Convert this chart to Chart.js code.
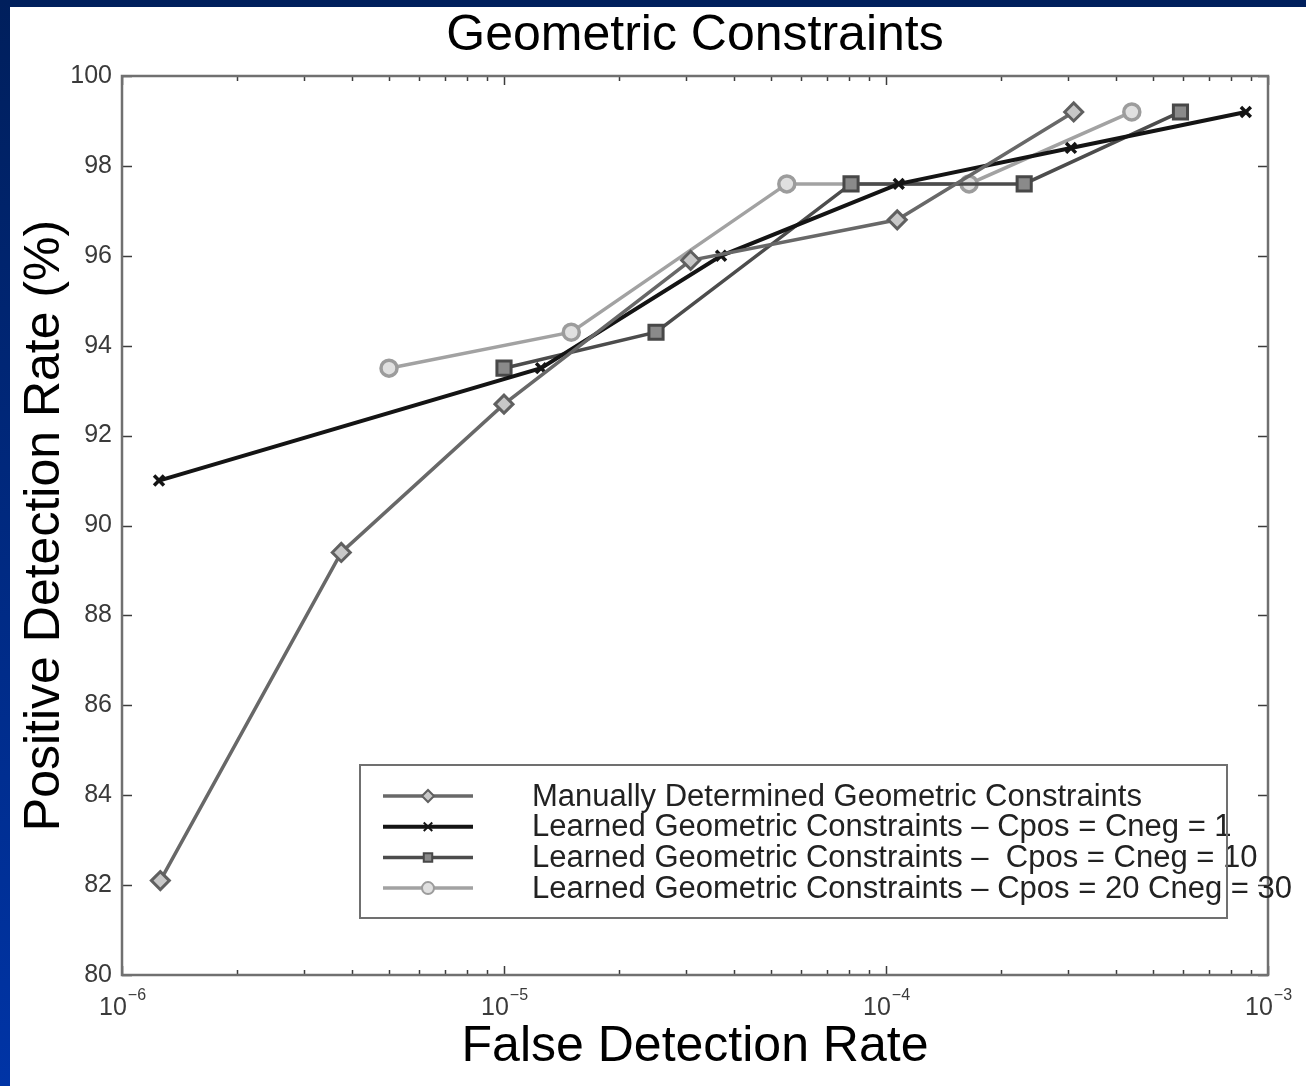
<!DOCTYPE html>
<html>
<head>
<meta charset="utf-8">
<script src="https://cdn.jsdelivr.net/npm/chart.js@4/dist/chart.umd.min.js"></script>
<style>
  html, body { margin: 0; padding: 0; }
  body {
    width: 1306px; height: 1086px; overflow: hidden;
    background: linear-gradient(to bottom, #001f5c, #0034a6);
    position: relative;
  }
  #wrap {
    position: absolute; left: 10px; top: 7px;
    width: 1296px; height: 1079px; background: #fff;
  }
</style>
</head>
<body>
<div id="wrap"><canvas id="chart" width="1296" height="1079"></canvas></div>
<script>
// false detection rate (x) / positive detection rate (y)
const manualFdr = [1.26e-6, 3.75e-6, 1.0e-5, 3.08e-5, 1.07e-4, 3.1e-4];
const manualPdr = [82.1, 89.4, 92.7, 95.9, 96.8, 99.2];

const learned1Fdr = [1.25e-6, 1.25e-5, 3.7e-5, 1.08e-4, 3.05e-4, 8.75e-4];
const learned1Pdr = [91.0, 93.5, 96.0, 97.6, 98.4, 99.2];

const learned10Fdr = [1.0e-5, 2.5e-5, 8.1e-5, 2.3e-4, 5.9e-4];
const learned10Pdr = [93.5, 94.3, 97.6, 97.6, 99.2];

const learned20Fdr = [5.0e-6, 1.5e-5, 5.5e-5, 1.65e-4, 4.4e-4];
const learned20Pdr = [93.5, 94.3, 97.6, 97.6, 99.2];

const seriesLabels = [
    'Manually Determined Geometric Constraints',
    'Learned Geometric Constraints \u2013 Cpos = Cneg = 1',
    'Learned Geometric Constraints \u2013  Cpos = Cneg = 10',
    'Learned Geometric Constraints \u2013 Cpos = 20 Cneg = 30'
];

const xTickValues = [
    1e-6, 2e-6, 3e-6, 4e-6, 5e-6, 6e-6, 7e-6, 8e-6, 9e-6,
    1e-5, 2e-5, 3e-5, 4e-5, 5e-5, 6e-5, 7e-5, 8e-5, 9e-5,
    1e-4, 2e-4, 3e-4, 4e-4, 5e-4, 6e-4, 7e-4, 8e-4, 9e-4,
    1e-3
];

const FONT = "'Liberation Sans', Arial, Helvetica, sans-serif";
Chart.defaults.font.family = FONT;

function pts(xs, ys) {
    return xs.map((x, i) => ({ x: x, y: ys[i] }));
}

function isDecade(v) {
    const l = Math.log10(v);
    return Math.abs(l - Math.round(l)) < 1e-9;
}

// frame + inward ticks + x labels with superscript exponents
const frameTicks = {
    id: 'frameTicks',
    afterDraw(chart) {
        const { ctx, chartArea: a, scales: { x, y } } = chart;
        ctx.save();
        ctx.strokeStyle = '#3c3c3c';
        ctx.lineWidth = 1.5;
        ctx.beginPath();
        xTickValues.forEach(v => {
            const px = Math.round(x.getPixelForValue(v)) + 0.5;
            const len = isDecade(v) ? 9 : 5;
            ctx.moveTo(px, a.bottom); ctx.lineTo(px, a.bottom - len);
            ctx.moveTo(px, a.top); ctx.lineTo(px, a.top + len);
        });
        y.ticks.forEach(t => {
            const py = Math.round(y.getPixelForValue(t.value)) + 0.5;
            ctx.moveTo(a.left, py); ctx.lineTo(a.left + 10, py);
            ctx.moveTo(a.right, py); ctx.lineTo(a.right - 10, py);
        });
        ctx.stroke();

        ctx.strokeStyle = '#707070';
        ctx.lineWidth = 2.5;
        ctx.strokeRect(a.left, a.top, a.right - a.left, a.bottom - a.top);

        ctx.fillStyle = '#3a3a3a';
        ctx.textBaseline = 'alphabetic';
        xTickValues.filter(isDecade).forEach(v => {
            const px = x.getPixelForValue(v);
            const exp = '\u2212' + Math.abs(Math.round(Math.log10(v)));
            ctx.font = '25px ' + FONT;
            const wBase = ctx.measureText('10').width;
            ctx.font = '16px ' + FONT;
            const wExp = ctx.measureText(exp).width;
            const start = px - (wBase + wExp) / 2;
            ctx.font = '25px ' + FONT;
            ctx.fillText('10', start, a.bottom + 40);
            ctx.font = '16px ' + FONT;
            ctx.fillText(exp, start + wBase + 1, a.bottom + 25);
        });
        ctx.restore();
    }
};

// legend box drawn inside the plot, lower right
const boxLegend = {
    id: 'boxLegend',
    afterDraw(chart) {
        const { ctx, chartArea: a } = chart;
        const left = a.left + 238, top = a.top + 689;
        const w = 867, h = 153;
        ctx.save();
        ctx.fillStyle = '#fff';
        ctx.fillRect(left, top, w, h);
        chart.data.datasets.forEach((ds, i) => {
            const cy = top + 31 + i * 30.7;
            ctx.strokeStyle = ds.borderColor;
            ctx.lineWidth = ds.borderWidth;
            ctx.beginPath();
            ctx.moveTo(left + 23, cy);
            ctx.lineTo(left + 113, cy);
            ctx.stroke();
            ctx.fillStyle = ds.pointBackgroundColor;
            ctx.strokeStyle = ds.pointBorderColor;
            ctx.lineWidth = 2;
            Chart.helpers.drawPoint(ctx, {
                pointStyle: ds.pointStyle, radius: 6, rotation: 0, borderWidth: 2
            }, left + 68, cy);
            ctx.fillStyle = '#222';
            ctx.font = '31px ' + FONT;
            ctx.textBaseline = 'middle';
            ctx.fillText(ds.label, left + 172, cy + 1);
        });
        ctx.strokeStyle = '#707070';
        ctx.lineWidth = 2;
        ctx.strokeRect(left, top, w, h);
        ctx.restore();
    }
};

const ctx = document.getElementById('chart').getContext('2d');

const chart = new Chart(ctx, {
    type: 'line',
    data: {
        datasets: [{
            label: seriesLabels[0],
            data: pts(manualFdr, manualPdr),
            borderColor: '#686868',
            borderWidth: 3.5,
            pointStyle: 'rectRot',
            pointRadius: 9,
            pointBorderWidth: 3,
            pointBorderColor: '#606060',
            pointBackgroundColor: '#c8c8c8'
        }, {
            label: seriesLabels[1],
            data: pts(learned1Fdr, learned1Pdr),
            borderColor: '#141414',
            borderWidth: 4,
            pointStyle: 'crossRot',
            pointRadius: 7,
            pointBorderWidth: 3.5,
            pointBorderColor: '#141414',
            pointBackgroundColor: '#141414'
        }, {
            label: seriesLabels[2],
            data: pts(learned10Fdr, learned10Pdr),
            borderColor: '#4c4c4c',
            borderWidth: 3.5,
            pointStyle: 'rect',
            pointRadius: 10,
            pointBorderWidth: 3,
            pointBorderColor: '#484848',
            pointBackgroundColor: '#8a8a8a'
        }, {
            label: seriesLabels[3],
            data: pts(learned20Fdr, learned20Pdr),
            borderColor: '#a2a2a2',
            borderWidth: 3.5,
            pointStyle: 'circle',
            pointRadius: 8,
            pointBorderWidth: 3.5,
            pointBorderColor: '#9c9c9c',
            pointBackgroundColor: '#e0e0e0'
        }]
    },
    options: {
        responsive: false,
        animation: false,
        layout: { padding: { left: 0, right: 38, top: 0, bottom: 0 } },
        elements: { line: { tension: 0 } },
        scales: {
            x: {
                type: 'logarithmic',
                min: 1e-6,
                max: 1e-3,
                grid: { display: false, drawTicks: false },
                border: { display: false },
                ticks: { display: false, autoSkip: false },
                afterBuildTicks: s => { s.ticks = xTickValues.map(v => ({ value: v })); },
                afterFit: s => { s.height = 111; },
                title: {
                    display: true,
                    text: 'False Detection Rate',
                    color: '#000',
                    font: { size: 50, lineHeight: 1.2 },
                    padding: { top: 0, bottom: 9 }
                }
            },
            y: {
                min: 80,
                max: 100,
                grid: { display: false, drawTicks: false },
                border: { display: false },
                ticks: {
                    stepSize: 2,
                    padding: 10,
                    color: '#3a3a3a',
                    font: { size: 25 }
                },
                afterFit: s => { s.width = 112; },
                title: {
                    display: true,
                    text: 'Positive Detection Rate (%)',
                    color: '#000',
                    font: { size: 50, lineHeight: 1.2 },
                    padding: { top: 5, bottom: 0 }
                }
            }
        },
        plugins: {
            legend: { display: false },
            tooltip: { enabled: false },
            title: {
                display: true,
                text: 'Geometric Constraints',
                color: '#000',
                fullSize: false,
                font: { size: 50, weight: 'normal', lineHeight: 1.0 },
                padding: { top: 4, bottom: 15 }
            }
        }
    },
    plugins: [frameTicks, boxLegend]
});
</script>
</body>
</html>
